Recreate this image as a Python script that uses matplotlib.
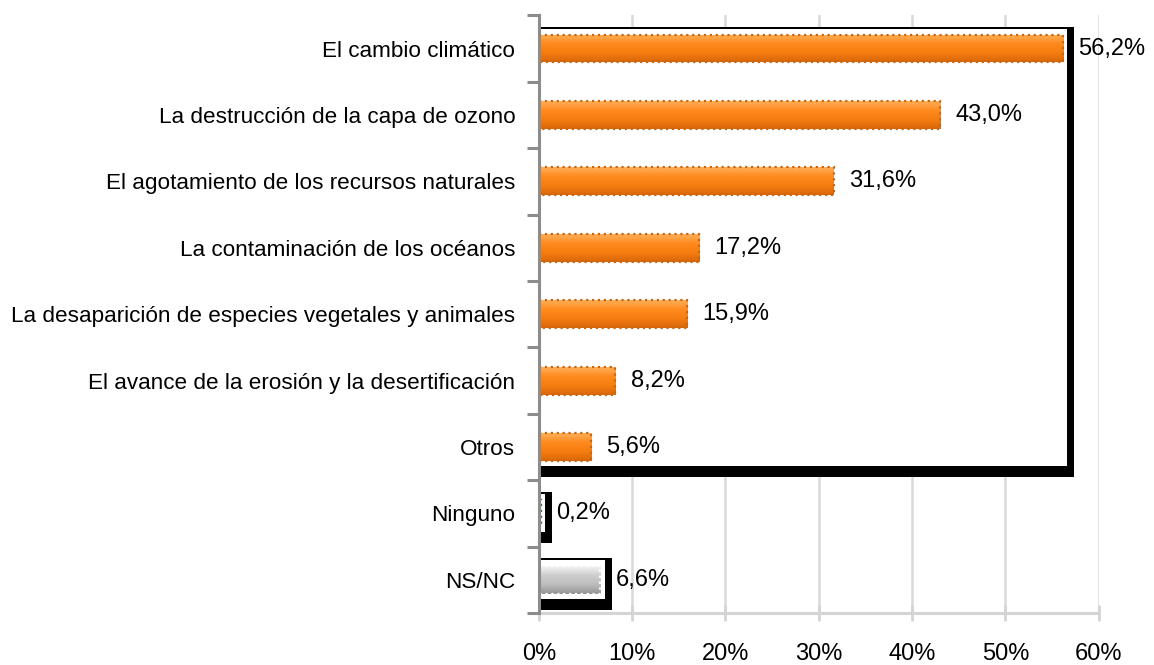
import numpy as np
import matplotlib
matplotlib.use("Agg")
import matplotlib.pyplot as plt
from matplotlib.patches import Rectangle
from matplotlib.colors import LinearSegmentedColormap

plt.rcParams['font.family'] = ['Liberation Sans', 'DejaVu Sans']

# datos
categorias = [
    "El cambio climático",
    "La destrucción de la capa de ozono",
    "El agotamiento de los recursos naturales",
    "La contaminación de los océanos",
    "La desaparición de especies vegetales y animales",
    "El avance de la erosión y la desertificación",
    "Otros",
    "Ninguno",
    "NS/NC",
]
valores = [56.2, 43.0, 31.6, 17.2, 15.9, 8.2, 5.6, 0.2, 6.6]
ticks_x = [0, 10, 20, 30, 40, 50, 60]
# grupos enmarcados (indice inicial, indice final)
grupos = [(0, 6), (7, 7), (8, 8)]

naranja = LinearSegmentedColormap.from_list(
    "naranja", ["#FFB05A", "#FF8A1E", "#F57D10", "#D8660A"])
gris = LinearSegmentedColormap.from_list(
    "gris", ["#F4F4F4", "#CDCDCD", "#BDBDBD", "#949494"])

fig = plt.figure(figsize=(11.54, 6.65), dpi=100)
ax = fig.add_axes([0.467, 0.078, 0.485, 0.899])

y = np.arange(len(categorias))
alto = 0.42

# marcos con sombra
for ini, fin in grupos:
    vmax = max(valores[ini:fin + 1])
    top = ini - 0.33
    ax.add_patch(Rectangle((0, top), vmax + 1.2, (fin + 0.45) - top,
                           facecolor="black", edgecolor="none", zorder=1))
    ax.add_patch(Rectangle((0, top + 0.03), vmax + 0.45, (fin + 0.28) - (top + 0.03),
                           facecolor="white", edgecolor="none", zorder=1.1))

# barras con degradado
grad = np.linspace(0, 1, 64).reshape(-1, 1)
bordes = ["#C8660F"] * 7 + ["#3F6B2F", "#FFFFFF"]
bars = ax.barh(y, valores, height=alto, facecolor="none", edgecolor=bordes,
               linestyle=":", linewidth=1.6, zorder=3)
for i, b in enumerate(bars):
    cmap = gris if categorias[i] == "NS/NC" else naranja
    im = ax.imshow(grad, cmap=cmap, aspect="auto", origin="lower",
                   extent=(0, valores[i], y[i] - alto / 2, y[i] + alto / 2),
                   zorder=2.5)
    im.set_clip_path(b)

for i, v in enumerate(valores):
    ax.annotate(f"{v:.1f}%".replace(".", ","), (v, y[i]), xytext=(11, 0),
                textcoords="offset points", va="center", ha="left",
                fontsize=17, zorder=4)

ax.set_xlim(0, 60)
ax.set_ylim(len(categorias) - 0.5, -0.5)

ax.set_xticks(ticks_x)
ax.set_xticklabels([f"{t}%" for t in ticks_x], fontsize=17)
ax.set_yticks(y)
ax.set_yticklabels(categorias, fontsize=16.2)
ax.set_yticks(np.arange(-0.5, len(categorias), 1), minor=True)

ax.tick_params(axis="y", which="major", length=0, pad=17)
ax.tick_params(axis="y", which="minor", length=8.5, width=2.2, color="#8C8C8C")
ax.tick_params(axis="x", which="major", direction="inout", length=11,
               width=2, color="#D4D4D4", pad=16)

ax.grid(axis="x", color="#D9D9D9", linewidth=1.8, zorder=0)
ax.set_axisbelow(True)

for s in ["top", "right"]:
    ax.spines[s].set_visible(False)
ax.spines["left"].set_color("#8C8C8C")
ax.spines["left"].set_linewidth(2.2)
ax.spines["left"].set_zorder(5)
ax.spines["bottom"].set_color("#D4D4D4")
ax.spines["bottom"].set_linewidth(2.2)

fig.savefig("out.png", dpi=100)
